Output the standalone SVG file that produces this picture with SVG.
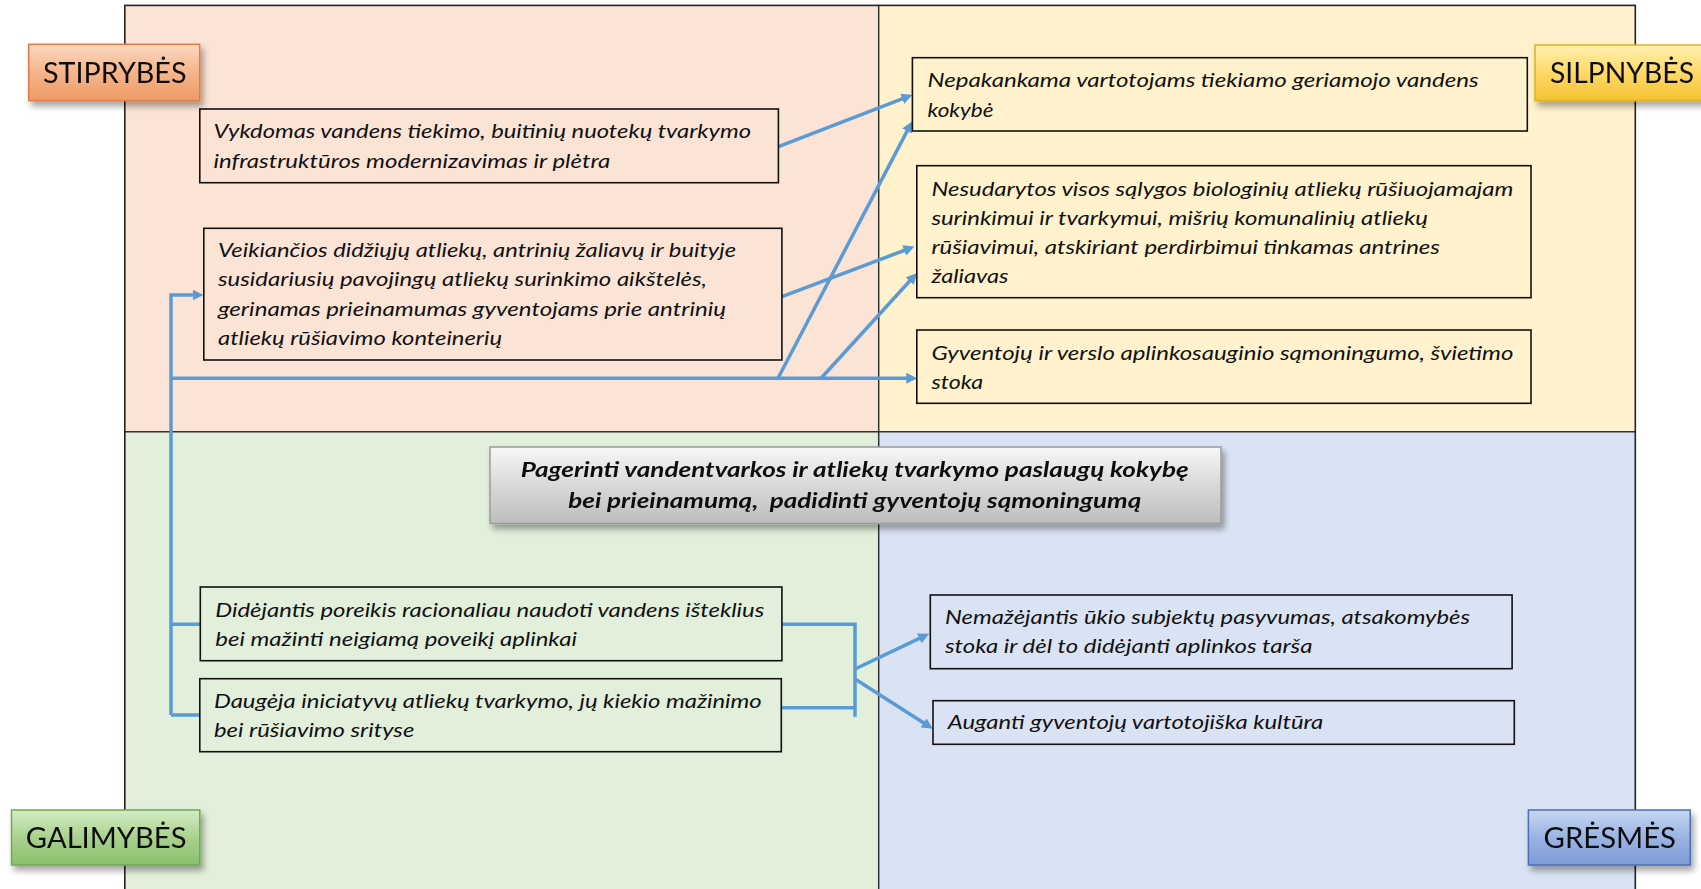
<svg xmlns="http://www.w3.org/2000/svg" width="1701" height="889" viewBox="0 0 1701 889">
<style>
.t{font-family:Lato,"Liberation Sans",sans-serif;font-style:italic;font-size:20px;fill:#111}
.c{font-family:Lato,"Liberation Sans",sans-serif;font-style:italic;font-weight:bold;font-size:20.5px;fill:#111}
.lab{font-family:Lato,"Liberation Sans",sans-serif;font-size:28px;fill:#111}
.box{fill:none;stroke:#111;stroke-width:1.6}
.ln{fill:none;stroke:#5B9BD5;stroke-width:3.5}
.ar{marker-end:url(#ah)}
</style>
<defs>
<marker id="ah" viewBox="0 0 10 10" refX="5" refY="5" markerWidth="11" markerHeight="11" markerUnits="userSpaceOnUse" orient="auto"><path d="M0,0 L10,5 L0,10 z" fill="#5B9BD5"/></marker>
<filter id="sh" x="-10%" y="-20%" width="130%" height="150%"><feDropShadow dx="3" dy="5" stdDeviation="3" flood-color="#000" flood-opacity="0.35"/></filter>
<linearGradient id="gO" x1="0" y1="0" x2="0" y2="1"><stop offset="0" stop-color="#FBD9C3"/><stop offset="0.5" stop-color="#F6B48A"/><stop offset="1" stop-color="#EE9A66"/></linearGradient>
<linearGradient id="gY" x1="0" y1="0" x2="0" y2="1"><stop offset="0" stop-color="#FFF0B0"/><stop offset="0.5" stop-color="#FFD966"/><stop offset="1" stop-color="#F2C230"/></linearGradient>
<linearGradient id="gG" x1="0" y1="0" x2="0" y2="1"><stop offset="0" stop-color="#D5ECC5"/><stop offset="0.5" stop-color="#A9D18E"/><stop offset="1" stop-color="#8CBF6E"/></linearGradient>
<linearGradient id="gB" x1="0" y1="0" x2="0" y2="1"><stop offset="0" stop-color="#C9D7F2"/><stop offset="0.5" stop-color="#9AB3E3"/><stop offset="1" stop-color="#7F9CD6"/></linearGradient>
<linearGradient id="gC" x1="0" y1="0" x2="0" y2="1"><stop offset="0" stop-color="#F7F7F7"/><stop offset="0.5" stop-color="#D9D9D9"/><stop offset="1" stop-color="#BDBDBD"/></linearGradient>
</defs>
<rect width="1701" height="889" fill="#fff"/>
<g id="quadrants">
<rect x="124.8" y="5.4" width="753.9" height="426.4" fill="#FBE4D5"/>
<rect x="878.7" y="5.4" width="756.6" height="426.4" fill="#FFF2CC"/>
<rect x="124.8" y="431.8" width="753.9" height="470" fill="#E2EFDA"/>
<rect x="878.7" y="431.8" width="756.6" height="470" fill="#DAE3F3"/>
<path d="M878.7,5.4 V895 M124.8,431.8 H1635.3" stroke="#333" stroke-width="1.5" fill="none"/>
<rect x="124.8" y="5.4" width="1510.5" height="900" fill="none" stroke="#222" stroke-width="1.6"/>
</g>
<g id="connectors">
<path class="ln ar" d="M778.4,146.7 L907.3,96.8"/>
<path class="ln ar" d="M778,378.3 L909.7,126.1"/>
<path class="ln ar" d="M782,296.7 L909.3,248.5"/>
<path class="ln ar" d="M821,378.3 L913.4,277"/>
<path class="ln ar" d="M171,378.3 H911.8"/>
<path class="ln ar" d="M171,715 V295 H198"/>
<path class="ln" d="M171,624.3 H200.3 M171,715 H199.8"/>
<path class="ln" d="M782,624.3 H855 M781.3,707.7 H855 M855,622.6 V716.7"/>
<path class="ln ar" d="M855,669 L924.2,636.1"/>
<path class="ln ar" d="M855,679 L928.2,725.8"/>
</g>
<g id="label-stiprybes" filter="url(#sh)">
<rect x="28.7" y="44.3" width="171" height="56.4" fill="url(#gO)" stroke="#E07B45" stroke-width="1.5"/>
<text class="lab" x="43" y="83.3" textLength="143.5" lengthAdjust="spacingAndGlyphs">STIPRYBĖS</text>
</g>
<g id="label-silpnybes" filter="url(#sh)">
<rect x="1535" y="45" width="175" height="55.7" fill="url(#gY)" stroke="#E0B020" stroke-width="1.5"/>
<text class="lab" x="1550" y="83.3" textLength="144" lengthAdjust="spacingAndGlyphs">SILPNYBĖS</text>
</g>
<g id="label-galimybes" filter="url(#sh)">
<rect x="11.5" y="810" width="188.3" height="55" fill="url(#gG)" stroke="#6FA852" stroke-width="1.5"/>
<text class="lab" x="25.8" y="848.3" textLength="160.7" lengthAdjust="spacingAndGlyphs">GALIMYBĖS</text>
</g>
<g id="label-gresmes" filter="url(#sh)">
<rect x="1528.4" y="810" width="161.8" height="55" fill="url(#gB)" stroke="#4A6FB5" stroke-width="1.5"/>
<text class="lab" x="1543.6" y="848.3" textLength="132.4" lengthAdjust="spacingAndGlyphs">GRĖSMĖS</text>
</g>
<g id="center" filter="url(#sh)">
<rect x="490" y="447" width="731" height="76.5" fill="url(#gC)" stroke="#9A9A9A" stroke-width="1.5"/>
<text class="c" x="520.7" y="476.7" textLength="668" lengthAdjust="spacingAndGlyphs">Pagerinti vandentvarkos ir atliekų tvarkymo paslaugų kokybę</text>
<text class="c" x="568.3" y="508.3" textLength="573" lengthAdjust="spacingAndGlyphs" xml:space="preserve">bei prieinamumą,  padidinti gyventojų sąmoningumą</text>
</g>
<g id="s1">
<rect class="box" x="199.8" y="109" width="578.6" height="73.7"/>
<text class="t" x="213.5" y="138.3" textLength="537.5" lengthAdjust="spacingAndGlyphs">Vykdomas vandens tiekimo, buitinių nuotekų tvarkymo</text>
<text class="t" x="213.5" y="168" textLength="396.7" lengthAdjust="spacingAndGlyphs">infrastruktūros modernizavimas ir plėtra</text>
</g>
<g id="s2">
<rect class="box" x="203.8" y="228.3" width="578.1" height="131.7"/>
<text class="t" x="218" y="256.7" textLength="518" lengthAdjust="spacingAndGlyphs">Veikiančios didžiųjų atliekų, antrinių žaliavų ir buityje</text>
<text class="t" x="218" y="286.3" textLength="489" lengthAdjust="spacingAndGlyphs">susidariusių pavojingų atliekų surinkimo aikštelės,</text>
<text class="t" x="218" y="315.8" textLength="508" lengthAdjust="spacingAndGlyphs">gerinamas prieinamumas gyventojams prie antrinių</text>
<text class="t" x="218" y="345.2" textLength="284" lengthAdjust="spacingAndGlyphs">atliekų rūšiavimo konteinerių</text>
</g>
<g id="w1">
<rect class="box" x="912.4" y="57.7" width="614.9" height="73.3"/>
<text class="t" x="927.6" y="87.3" textLength="551" lengthAdjust="spacingAndGlyphs">Nepakankama vartotojams tiekiamo geriamojo vandens</text>
<text class="t" x="927.6" y="116.7" textLength="66" lengthAdjust="spacingAndGlyphs">kokybė</text>
</g>
<g id="w2">
<rect class="box" x="916.8" y="165.7" width="614.2" height="132"/>
<text class="t" x="931.4" y="196" textLength="582" lengthAdjust="spacingAndGlyphs">Nesudarytos visos sąlygos biologinių atliekų rūšiuojamajam</text>
<text class="t" x="931.4" y="225.3" textLength="496.6" lengthAdjust="spacingAndGlyphs">surinkimui ir tvarkymui, mišrių komunalinių atliekų</text>
<text class="t" x="931.4" y="254.3" textLength="508.5" lengthAdjust="spacingAndGlyphs">rūšiavimui, atskiriant perdirbimui tinkamas antrines</text>
<text class="t" x="931.4" y="283.3" textLength="77" lengthAdjust="spacingAndGlyphs">žaliavas</text>
</g>
<g id="w3">
<rect class="box" x="916.8" y="330" width="614.2" height="73.3"/>
<text class="t" x="931.4" y="360" textLength="582" lengthAdjust="spacingAndGlyphs">Gyventojų ir verslo aplinkosauginio sąmoningumo, švietimo</text>
<text class="t" x="931.4" y="389.3" textLength="51.6" lengthAdjust="spacingAndGlyphs">stoka</text>
</g>
<g id="o1">
<rect class="box" x="200.3" y="587" width="581.6" height="73.7"/>
<text class="t" x="215.3" y="616.7" textLength="549" lengthAdjust="spacingAndGlyphs">Didėjantis poreikis racionaliau naudoti vandens išteklius</text>
<text class="t" x="215.3" y="646" textLength="361.6" lengthAdjust="spacingAndGlyphs">bei mažinti neigiamą poveikį aplinkai</text>
</g>
<g id="o2">
<rect class="box" x="199.8" y="678.7" width="581.5" height="73"/>
<text class="t" x="214" y="707.7" textLength="547.7" lengthAdjust="spacingAndGlyphs">Daugėja iniciatyvų atliekų tvarkymo, jų kiekio mažinimo</text>
<text class="t" x="214" y="737.3" textLength="200.3" lengthAdjust="spacingAndGlyphs">bei rūšiavimo srityse</text>
</g>
<g id="t1">
<rect class="box" x="930.3" y="595" width="581.8" height="73.7"/>
<text class="t" x="945" y="624" textLength="525" lengthAdjust="spacingAndGlyphs">Nemažėjantis ūkio subjektų pasyvumas, atsakomybės</text>
<text class="t" x="945" y="653.3" textLength="367.4" lengthAdjust="spacingAndGlyphs">stoka ir dėl to didėjanti aplinkos tarša</text>
</g>
<g id="t2">
<rect class="box" x="933" y="700.7" width="581.3" height="43.6"/>
<text class="t" x="947.7" y="729.3" textLength="375.6" lengthAdjust="spacingAndGlyphs">Auganti gyventojų vartotojiška kultūra</text>
</g>
</svg>
